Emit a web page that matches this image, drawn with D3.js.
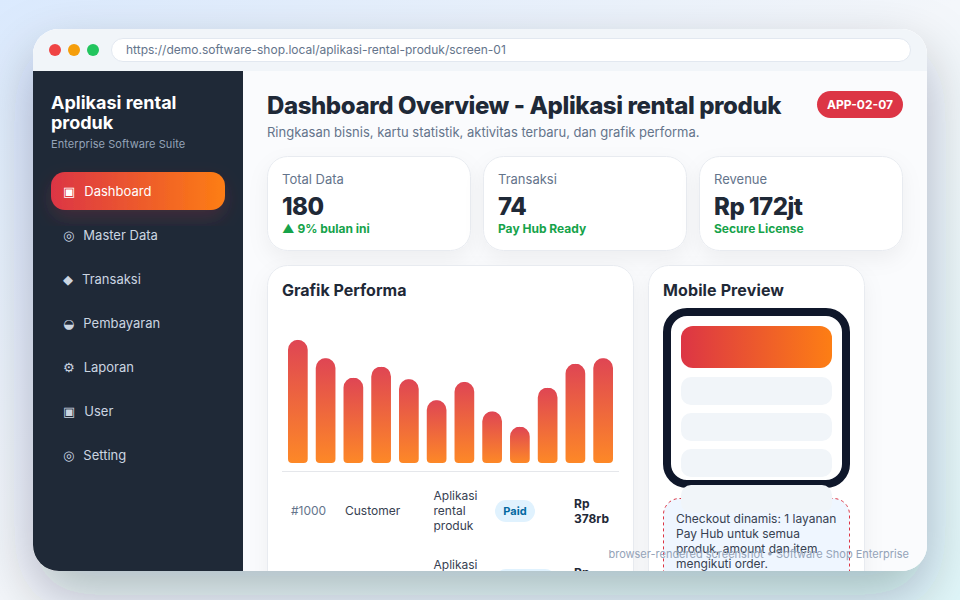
<!DOCTYPE html>
<html>
<head>
<meta charset="utf-8">
<script src="https://cdn.jsdelivr.net/npm/d3@7"></script>
<style>
html, body { margin: 0; padding: 0; background: #fff; }
svg { display: block; font-family: Inter, sans-serif; }
</style>
</head>
<body>
<script>
var WIDTH = 960, HEIGHT = 600;

// data
var months = ["1","2","3","4","5","6","7","8","9","10","11","12"];
var perf = [88,75,61,69,60,45,58,37,26,54,71,75];
var navItems = ["Dashboard","Master Data","Transaksi","Pembayaran","Laporan","User","Setting"];
var navIcons = ["▣","◎","◆","◒","⚙","▣","◎"];
var statLabels = ["Total Data","Transaksi","Revenue"];
var statValues = ["180","74","Rp 172jt"];
var statNotes = ["▲ 9% bulan ini","Pay Hub Ready","Secure License"];
var orderIds = ["#1000","#1001"];
var orderCustomers = ["Customer","Customer"];
var orderStatus = ["Paid","Pending"];
var orderTotals = [["Rp","378rb"],["Rp","412rb"]];
var productLines = ["Aplikasi","rental","produk"];
var noteLines = ["Checkout dinamis: 1 layanan","Pay Hub untuk semua","produk, amount dan item","mengikuti order."];

var svg = d3.select("body").append("svg")
    .attr("width", WIDTH)
    .attr("height", HEIGHT);
var defs = svg.append("defs");

function gradient(id, x2, y2, stops) {
  var g = defs.append("linearGradient").attr("id", id)
      .attr("x1", 0).attr("y1", 0).attr("x2", x2).attr("y2", y2);
  stops.forEach(s => g.append("stop").attr("offset", s[0]).attr("stop-color", s[1]));
}
function shadow(id, dy, blur, color, op) {
  defs.append("filter").attr("id", id)
      .attr("x", "-30%").attr("y", "-30%").attr("width", "160%").attr("height", "170%")
    .append("feDropShadow")
      .attr("dx", 0).attr("dy", dy).attr("stdDeviation", blur)
      .attr("flood-color", color).attr("flood-opacity", op);
}
gradient("bg", 1, 1, [[0,"#dbeafe"],[0.5,"#f4f7fb"],[1,"#e0f7fa"]]);
gradient("brandH", 1, 0, [[0,"#dc3545"],[1,"#fd7e14"]]);
gradient("brandV", 0, 1, [[0,"#dc3545"],[1,"#fd7e14"]]);
shadow("winShadow", 24, 28, "#0f172a", 0.28);
shadow("cardShadow", 8, 10, "#0f172a", 0.05);
shadow("navShadow", 8, 9, "#dc3545", 0.18);

defs.append("clipPath").attr("id", "win")
  .append("rect").attr("x", 33).attr("y", 29).attr("width", 894).attr("height", 542).attr("rx", 26);

function box(parent, x, y, w, h, r, fill) {
  return parent.append("rect").attr("x", x).attr("y", y).attr("width", w).attr("height", h)
      .attr("rx", r).attr("fill", fill);
}
function label(parent, x, y, str, size, weight, color) {
  return parent.append("text").attr("x", x).attr("y", y).text(str)
      .attr("font-size", size).attr("font-weight", weight).attr("fill", color);
}

// page background + window
box(svg, 0, 0, WIDTH, HEIGHT, 0, "url(#bg)");
box(svg, 33, 29, 894, 542, 26, "#fff").attr("filter", "url(#winShadow)");

var win = svg.append("g").attr("clip-path", "url(#win)");
box(win, 33, 29, 894, 542, 0, "#fafbfd");

// browser bar
box(win, 33, 29, 894, 42, 0, "#f1f5f9");
win.selectAll("circle.dot").data(["#ef4444","#f59e0b","#22c55e"]).enter().append("circle")
    .attr("class", "dot")
    .attr("cx", (d, i) => 55 + i * 19)
    .attr("cy", 50)
    .attr("r", 6)
    .attr("fill", d => d);
box(win, 111.5, 38.5, 799, 23, 11.5, "#fff").attr("stroke", "#e2e8f0");
label(win, 126, 54, "https://demo.software-shop.local/aplikasi-rental-produk/screen-01", 12, 400, "#64748b");

// sidebar
box(win, 33, 71, 210, 500, 0, "#1f2937");
label(win, 51, 109, "Aplikasi rental", 18, 700, "#fff");
label(win, 51, 129, "produk", 18, 700, "#fff");
label(win, 51, 148, "Enterprise Software Suite", 11, 400, "#94a3b8").attr("letter-spacing", 0.08);
box(win, 51, 172, 174, 38, 14, "url(#brandH)").attr("filter", "url(#navShadow)");

var nav = win.selectAll("text.nav").data(navItems).enter().append("text")
    .attr("class", "nav")
    .attr("x", 63)
    .attr("y", (d, i) => 196 + i * 44)
    .attr("font-size", 13)
    .attr("fill", (d, i) => i == 0 ? "#fff" : "#cbd5e1");
nav.append("tspan").attr("font-family", "'DejaVu Sans'").text((d, i) => navIcons[i]);
nav.append("tspan").attr("dx", 9).text(d => d);

// heading
label(win, 267, 114, "Dashboard Overview - Aplikasi rental produk", 24, 800, "#1f2937").attr("letter-spacing", -0.4);
label(win, 267, 137, "Ringkasan bisnis, kartu statistik, aktivitas terbaru, dan grafik performa.", 13, 400, "#64748b");
box(win, 817, 91, 86, 27, 13.5, "#dc3545");
label(win, 860, 109, "APP-02-07", 12, 700, "#fff").attr("text-anchor", "middle");

// stat cards
statLabels.forEach((d, i) => {
  var x = 267.5 + i * 216;
  box(win, x, 156.5, 203, 94, 20, "#fff").attr("stroke", "#e8ebf0").attr("filter", "url(#cardShadow)");
  label(win, x + 14.5, 184, d, 13, 400, "#64748b");
  label(win, x + 14.5, 215, statValues[i], 24, 800, "#1f2937").attr("letter-spacing", -0.5);
  label(win, x + 14.5, 233, statNotes[i], 12, 700, "#16a34a");
});

// chart card
box(win, 267.5, 265.5, 366, 340, 20, "#fff").attr("stroke", "#e8ebf0").attr("filter", "url(#cardShadow)");
label(win, 282, 296, "Grafik Performa", 16, 700, "#1f2937");

var x = d3.scaleBand().domain(months).range([288, 613]).paddingInner(0.29);
var y = d3.scaleLinear().domain([0, 100]).range([463, 323]);

function barPath(d, i) {
  var l = x(months[i]), r = l + x.bandwidth(), t = y(d), b = y(0);
  var p = d3.path();
  p.moveTo(l, t + 10);
  p.arcTo(l, t, l + 10, t, 10);
  p.arcTo(r, t, r, t + 10, 10);
  p.lineTo(r, b - 4);
  p.arcTo(r, b, r - 4, b, 4);
  p.lineTo(l + 4, b);
  p.arcTo(l, b, l, b - 4, 4);
  p.closePath();
  return p.toString();
}
win.selectAll("path.bar").data(perf).enter().append("path")
    .attr("class", "bar")
    .attr("d", barPath)
    .attr("fill", "url(#brandV)")
    .attr("opacity", 0.92);

win.append("line").attr("x1", 282).attr("x2", 619).attr("y1", 471.5).attr("y2", 471.5).attr("stroke", "#e5e7eb");

// table rows
orderIds.forEach((d, i) => {
  var mid = 511 + i * 69;
  label(win, 291, mid + 4, d, 12, 400, "#64748b");
  label(win, 345, mid + 4, orderCustomers[i], 12, 400, "#374151");
  productLines.forEach((t, j) => label(win, 433.5, mid + 4 + (j - 1) * 15, t, 12, 400, "#374151"));
  var bw = i == 0 ? 40 : 61;
  box(win, 495, mid - 11, bw, 22, 11, "#e0f2fe");
  label(win, 495 + bw / 2, mid + 4, orderStatus[i], 11, 700, "#0369a1").attr("text-anchor", "middle");
  orderTotals[i].forEach((t, j) => label(win, 574, mid + 4 + (j - 0.5) * 15, t, 12, 700, "#1f2937"));
});

// mobile card
box(win, 648.5, 265.5, 216, 340, 20, "#fff").attr("stroke", "#e8ebf0").attr("filter", "url(#cardShadow)");
label(win, 663, 296, "Mobile Preview", 16, 700, "#1f2937").attr("letter-spacing", 0.12);

box(win, 667, 312, 179, 172, 20, "#fff").attr("stroke", "#0f172a").attr("stroke-width", 8);
box(win, 681, 326, 151, 42, 12, "url(#brandH)");
[377, 413, 449].forEach(t => box(win, 681, t, 151, 28, 10, "#f1f5f9"));

box(win, 663.5, 498.5, 186, 110, 16, "#eff6ff").attr("stroke", "#dc3545").attr("stroke-dasharray", "3 3");
box(win, 681, 485, 151, 28, 10, "#f1f5f9");
noteLines.forEach((t, i) => label(win, 676, 523 + i * 15, t, 12, 400, "#374151"));

// footer stamp
label(svg, 909, 558, "browser-rendered screenshot • Software Shop Enterprise", 11, 400, "#94a3b8").attr("text-anchor", "end");
</script>
</body>
</html>
